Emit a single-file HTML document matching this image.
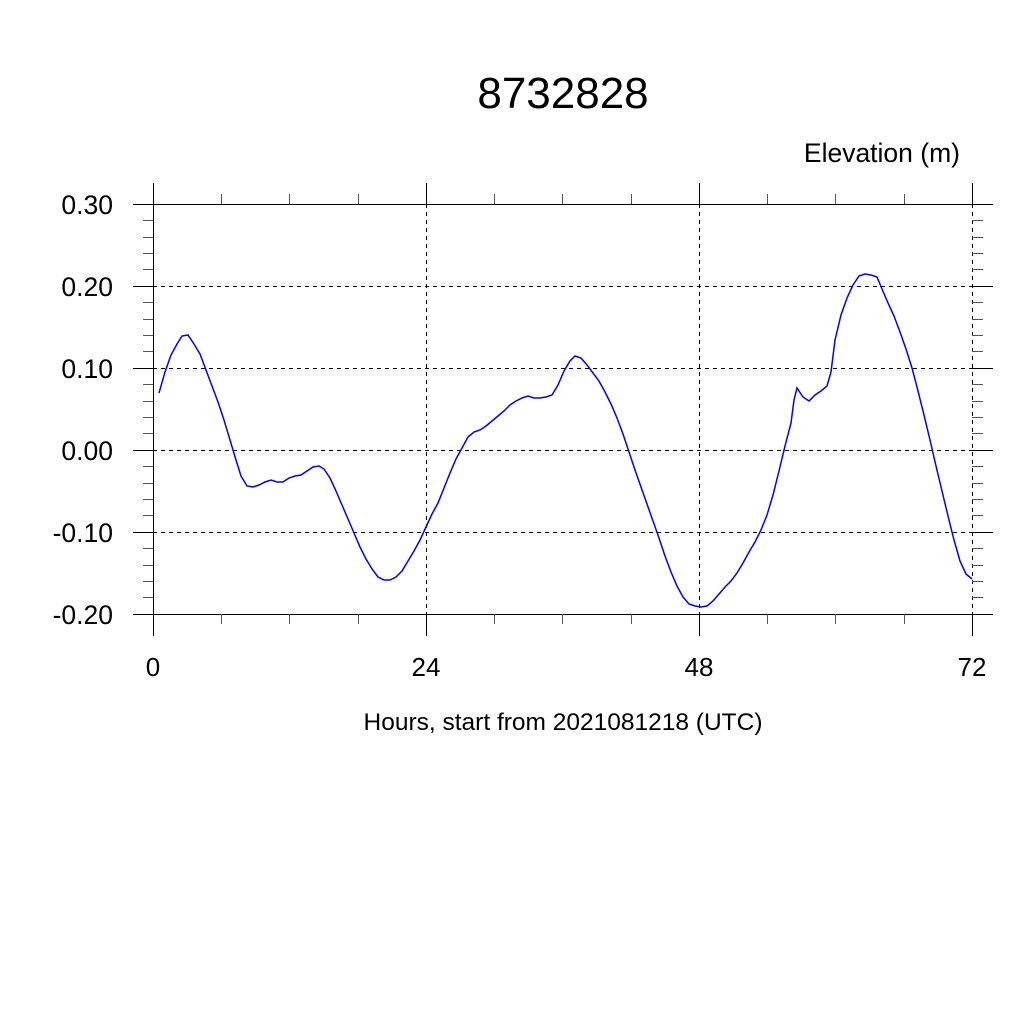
<!DOCTYPE html>
<html><head><style>body{margin:0;background:#fff}svg{display:block}</style></head><body>
<svg width="1024" height="1024" viewBox="0 0 1024 1024" xmlns="http://www.w3.org/2000/svg" font-family="Liberation Sans, sans-serif">
<rect width="1024" height="1024" fill="#fff"/>
<text x="563" y="108" font-size="44" text-anchor="middle">8732828</text>
<text x="960" y="162" font-size="26.5" text-anchor="end">Elevation (m)</text>
<g stroke="#000" stroke-width="1" fill="none">
<line x1="133" y1="204.5" x2="993" y2="204.5"/>
<line x1="133" y1="614.5" x2="993" y2="614.5"/>
<line x1="153.5" y1="183" x2="153.5" y2="636"/>
<g stroke-dasharray="4,4">
<line x1="153" y1="286.5" x2="972" y2="286.5"/>
<line x1="153" y1="368.5" x2="972" y2="368.5"/>
<line x1="153" y1="450.5" x2="972" y2="450.5"/>
<line x1="153" y1="532.5" x2="972" y2="532.5"/>
<line x1="426.5" y1="204" x2="426.5" y2="614"/>
<line x1="699.5" y1="204" x2="699.5" y2="614"/>
<line x1="972.5" y1="204" x2="972.5" y2="614"/>
</g>
<path d="M133 286.5H153M133 368.5H153M133 450.5H153M133 532.5H153M972 286.5H993M972 368.5H993M972 450.5H993M972 532.5H993M426.5 183V204M426.5 614V636M699.5 183V204M699.5 614V636M972.5 183V204M972.5 614V636"/>
<path stroke="#555" d="M143 220.5H153M143 237.5H153M143 253.5H153M143 269.5H153M143 302.5H153M143 319.5H153M143 335.5H153M143 351.5H153M143 384.5H153M143 401.5H153M143 417.5H153M143 433.5H153M143 466.5H153M143 483.5H153M143 499.5H153M143 515.5H153M143 548.5H153M143 565.5H153M143 581.5H153M143 597.5H153
M972 220.5H983M972 237.5H983M972 253.5H983M972 269.5H983M972 302.5H983M972 319.5H983M972 335.5H983M972 351.5H983M972 384.5H983M972 401.5H983M972 417.5H983M972 433.5H983M972 466.5H983M972 483.5H983M972 499.5H983M972 515.5H983M972 548.5H983M972 565.5H983M972 581.5H983M972 597.5H983
M221.5 194V204M289.5 194V204M358.5 194V204M494.5 194V204M562.5 194V204M631.5 194V204M767.5 194V204M835.5 194V204M904.5 194V204
M221.5 614V624M289.5 614V624M358.5 614V624M494.5 614V624M562.5 614V624M631.5 614V624M767.5 614V624M835.5 614V624M904.5 614V624"/>
</g>
<g font-size="26.5" text-anchor="end">
<text x="113" y="214">0.30</text><text x="113" y="296">0.20</text><text x="113" y="378">0.10</text>
<text x="113" y="460">0.00</text><text x="113" y="542">-0.10</text><text x="113" y="624">-0.20</text>
</g>
<g font-size="26" text-anchor="middle">
<text x="153" y="676">0</text><text x="426" y="676">24</text><text x="699" y="676">48</text><text x="972" y="676">72</text>
</g>
<text x="563" y="730" font-size="24.5" text-anchor="middle">Hours, start from 2021081218 (UTC)</text>
<polyline fill="none" stroke="#0000ff" stroke-width="1.5" points="159,393 165,372 171,355 177,344 182,336 188,335 194,344 200,354 206,370 212,386 218,402 224,420 230,440 236,460 241,476 247,486 253,487 259,485 265,482 271,480 277,482 283,482 289,478 295,476 301,475 307,471 313,467 319,466 324,469 330,478 336,491 342,505 348,519 354,533 360,547 366,559 372,569 378,577 384,580 390,580 396,577 402,571 408,561 414,551 420,540 426,527 432,514 438,503 444,488 450,473 456,459 462,448 468,437 474,432 480,430 486,426 492,421 498,416 504,411 510,405 516,401 522,398 528,396 534,398 540,398 546,397 552,395 558,385 564,371 570,361 575,356 581,358 587,365 593,373 599,381 605,392 611,404 617,418 623,434 629,452 635,470 641,487 647,504 653,521 659,538 665,556 671,572 677,586 683,597 689,604 695,606 701,607 707,606 713,601 719,594 725,587 731,581 737,573 743,563 749,552 755,542 761,530 767,515 773,495 779,471 785,446 791,423 794,400 797,388 803,397 809,401 815,395 821,391 827,386 831,372 835,340 841,315 847,298 853,285 859,276 865,274 871,275 877,277 882,289 888,303 894,316 900,332 906,349 912,368 918,391 924,415 930,440 936,466 942,491 948,516 954,540 960,561 966,574 972,579"/>
</svg>
</body></html>
